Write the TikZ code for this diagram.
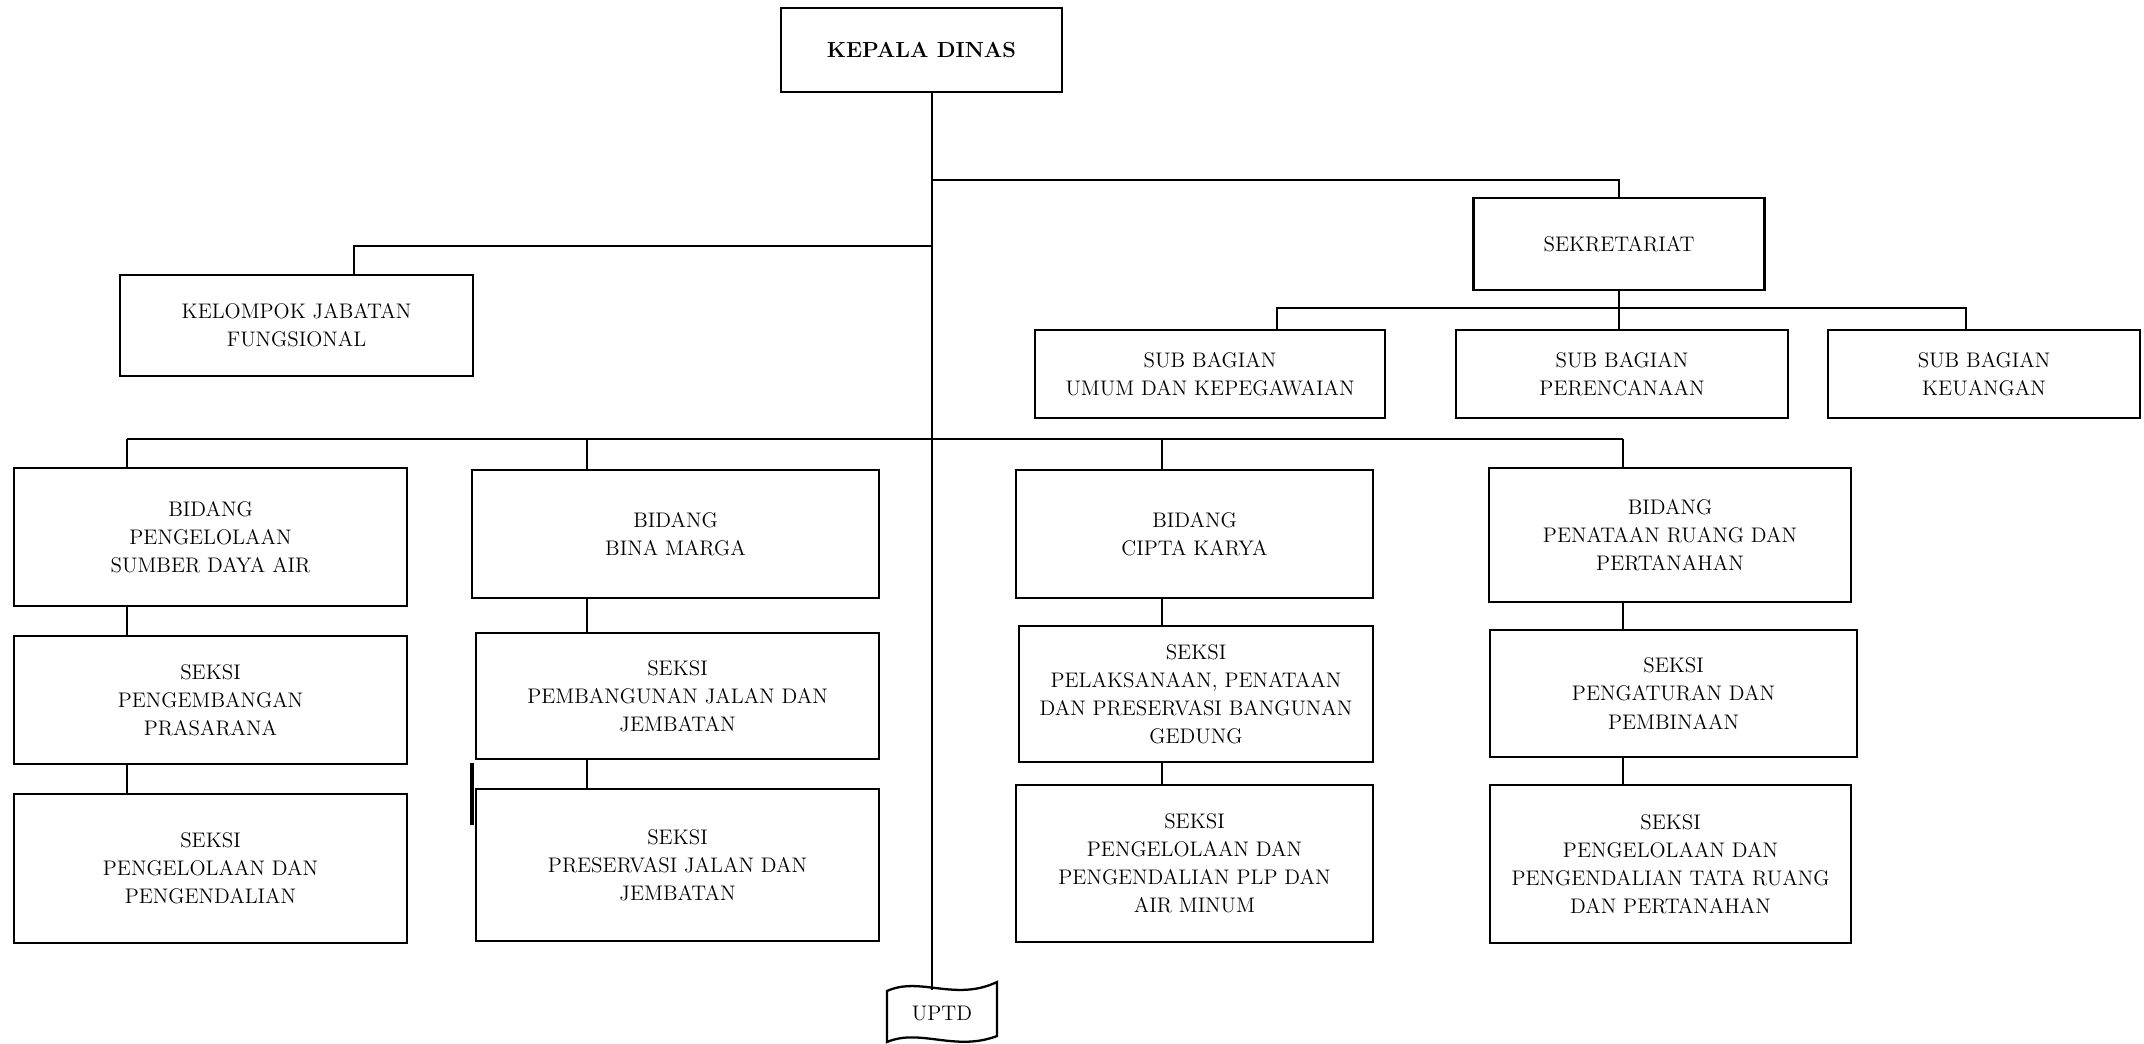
\documentclass[tikz,border=0pt]{standalone}
\begin{document}
\begin{tikzpicture}[x=0.02cm,y=-0.02cm,
  box/.style={draw, line width=1.3pt, align=center, inner sep=0pt, font=\fontsize{12}{16}\selectfont},
  conn/.style={line width=1.3pt}]
\useasboundingbox (0,0) rectangle (2144,1044);
% top
\node[box, minimum width=5.62cm, minimum height=1.68cm, font=\bfseries\fontsize{12.4}{15}\selectfont] (kd) at (921.5,50) {KEPALA DINAS};
\node[box, minimum width=7.06cm, minimum height=2.02cm] (kjf) at (296.5,325.5) {KELOMPOK JABATAN\\FUNGSIONAL};
\node[box, minimum width=5.82cm, minimum height=1.84cm] (sek) at (1619,244) {SEKRETARIAT};
\node[box, minimum width=7.00cm, minimum height=1.76cm] (umum) at (1210,374) {SUB BAGIAN\\UMUM DAN KEPEGAWAIAN};
\node[box, minimum width=6.64cm, minimum height=1.76cm] (peren) at (1622,374) {SUB BAGIAN\\PERENCANAAN};
\node[box, minimum width=6.24cm, minimum height=1.76cm] (keu) at (1984,374) {SUB BAGIAN\\KEUANGAN};
% bidang row
\node[box, minimum width=7.86cm, minimum height=2.76cm] (sda) at (210.5,537) {BIDANG\\PENGELOLAAN\\SUMBER DAYA AIR};
\node[box, minimum width=8.14cm, minimum height=2.56cm] (bm) at (675.5,534) {BIDANG\\BINA MARGA};
\node[box, minimum width=7.14cm, minimum height=2.56cm] (ck) at (1194.5,534) {BIDANG\\CIPTA KARYA};
\node[box, minimum width=7.24cm, minimum height=2.68cm] (pr) at (1670,535) {BIDANG\\PENATAAN RUANG DAN\\PERTANAHAN};
% seksi row 1
\node[box, minimum width=7.86cm, minimum height=2.56cm] (sda1) at (210.5,700) {SEKSI\\PENGEMBANGAN\\PRASARANA};
\node[box, minimum width=8.06cm, minimum height=2.52cm] (bm1) at (677.5,696) {SEKSI\\PEMBANGUNAN JALAN DAN\\JEMBATAN};
\node[box, minimum width=7.08cm, minimum height=2.72cm] (ck1) at (1196,694) {SEKSI\\PELAKSANAAN, PENATAAN\\DAN PRESERVASI BANGUNAN\\GEDUNG};
\node[box, minimum width=7.34cm, minimum height=2.54cm] (pr1) at (1673.5,693.5) {SEKSI\\PENGATURAN DAN\\PEMBINAAN};
% seksi row 2
\node[box, minimum width=7.86cm, minimum height=2.98cm] (sda2) at (210.5,868.5) {SEKSI\\PENGELOLAAN DAN\\PENGENDALIAN};
\node[box, minimum width=8.06cm, minimum height=3.04cm] (bm2) at (677.5,865) {SEKSI\\PRESERVASI JALAN DAN\\JEMBATAN};
\node[box, minimum width=7.14cm, minimum height=3.14cm] (ck2) at (1194.5,863.5) {SEKSI\\PENGELOLAAN DAN\\PENGENDALIAN PLP DAN\\AIR MINUM};
\node[box, minimum width=7.22cm, minimum height=3.16cm] (pr2) at (1670.5,864) {SEKSI\\PENGELOLAAN DAN\\PENGENDALIAN TATA RUANG\\DAN PERTANAHAN};
% UPTD
\draw[conn] (887,991) .. controls (920,976) and (955,1002) .. (997,982) -- (997,1036)
  .. controls (955,1052) and (920,1028) .. (887,1042) -- cycle;
\node[font=\fontsize{12}{15}\selectfont, inner sep=0pt] (uptd) at (942,1014) {UPTD};
\coordinate (uptdtop) at (932,990);
% connectors
\coordinate (trunk) at (932,0);
\draw[conn] (kd.south -| trunk) -- (uptdtop);
\coordinate (jk) at (354,246);
\draw[conn] (jk -| trunk) -- (jk) -- (jk |- kjf.north);
\coordinate (js) at (1619,180);
\draw[conn] (js -| trunk) -- (js) -- (js |- sek.north);
\coordinate (ju) at (1277,308);
\coordinate (jkeu) at (1966,308);
\draw[conn] (ju |- umum.north) -- (ju) -- (jkeu) -- (jkeu |- keu.north);
\draw[conn] (sek.south) -- (sek.south |- peren.north);
\coordinate (b1) at (127,439);
\coordinate (b2) at (587,439);
\coordinate (b3) at (1162,439);
\coordinate (b4) at (1623,439);
\draw[conn] (b1) -- (b4);
\draw[conn] (b1) -- (b1 |- sda.north);
\draw[conn] (b2) -- (b2 |- bm.north);
\draw[conn] (b3) -- (b3 |- ck.north);
\draw[conn] (b4) -- (b4 |- pr.north);
\draw[conn] (b1 |- sda.south) -- (b1 |- sda1.north);
\draw[conn] (b1 |- sda1.south) -- (b1 |- sda2.north);
\draw[conn] (b2 |- bm.south) -- (b2 |- bm1.north);
\draw[conn] (b2 |- bm1.south) -- (b2 |- bm2.north);
\draw[conn] (b3 |- ck.south) -- (b3 |- ck1.north);
\draw[conn] (b3 |- ck1.south) -- (b3 |- ck2.north);
\draw[conn] (b4 |- pr.south) -- (b4 |- pr1.north);
\draw[conn] (b4 |- pr1.south) -- (b4 |- pr2.north);
% scan mark beside the lower Bina Marga box
\coordinate (mk) at (472,763);
\draw[line width=2.2pt] (mk) -- ++(0,62);
\end{tikzpicture}
\end{document}
